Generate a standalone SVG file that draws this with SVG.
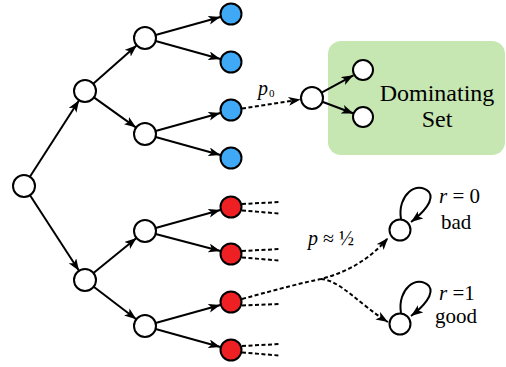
<svg xmlns="http://www.w3.org/2000/svg" width="506" height="367" viewBox="0 0 506 367">
<defs>
<marker id="ah" markerUnits="userSpaceOnUse" markerWidth="13" markerHeight="10" refX="12" refY="4.5" orient="auto">
<path d="M0,0 L12,4.5 L0,9 L3,4.5 Z" fill="#000"/>
</marker>
<style>
.n{fill:#fff;stroke:#000;stroke-width:2}
.b{fill:#3fa9f5;stroke:#000;stroke-width:2}
.r{fill:#ee2024;stroke:#000;stroke-width:2}
.e{stroke:#000;stroke-width:2;fill:none;marker-end:url(#ah)}
.d{stroke:#000;stroke-width:2;fill:none;stroke-dasharray:4 2.5}
.da{stroke:#000;stroke-width:2;fill:none;stroke-dasharray:4 2.5;marker-end:url(#ah)}
.t{font-family:"Liberation Serif","Times New Roman",Tinos,"DejaVu Serif",serif;fill:#000}
</style>
</defs>
<rect id="dombox" x="328" y="41" width="177" height="114" rx="13" fill="#c6e7b2"/>
<g id="connectors">
<line class="e" x1="29.9" y1="176.7" x2="79.1" y2="100.3"/>
<line class="e" x1="30" y1="195.2" x2="79" y2="270.8"/>
<line class="e" x1="93.2" y1="83.7" x2="136.8" y2="45.3"/>
<line class="e" x1="93.9" y1="97.4" x2="136.1" y2="127.6"/>
<line class="e" x1="93.5" y1="273" x2="136.5" y2="238"/>
<line class="e" x1="93.7" y1="286.7" x2="136.3" y2="319.3"/>
<line class="e" x1="155.6" y1="35" x2="220.4" y2="17"/>
<line class="e" x1="155.6" y1="41" x2="220.4" y2="59"/>
<line class="e" x1="155.6" y1="131" x2="220.4" y2="113"/>
<line class="e" x1="155.6" y1="137" x2="220.4" y2="155"/>
<line class="e" x1="155.6" y1="228" x2="220.4" y2="210"/>
<line class="e" x1="155.6" y1="234" x2="220.4" y2="251"/>
<line class="e" x1="155.6" y1="323" x2="220.4" y2="305"/>
<line class="e" x1="155.6" y1="329" x2="220.4" y2="347"/>
<line class="e" x1="321.6" y1="92.7" x2="353.4" y2="75.3"/>
<line class="e" x1="322.3" y1="101.8" x2="353.6" y2="113.5"/>
<line class="da" x1="242" y1="108.5" x2="300.5" y2="99.5"/>
<line class="d" x1="242" y1="204" x2="280" y2="202"/>
<line class="d" x1="242" y1="210.5" x2="279" y2="213.5"/>
<line class="d" x1="242" y1="251" x2="280" y2="249"/>
<line class="d" x1="242" y1="257.5" x2="279" y2="260.5"/>
<line class="d" x1="242" y1="305.5" x2="279" y2="304"/>
<line class="d" x1="242" y1="346" x2="280" y2="344"/>
<line class="d" x1="242" y1="352.5" x2="279" y2="355.5"/>
<path class="da" d="M242 299 Q300 283 321 279 C348 272 370 259 388 238"/>
<path class="da" d="M321 279 C340 280 360 305 388 322"/>
<path class="e" d="M401 219 C397 195 417 180 429 192 C435 200 423 213 411 222"/>
<path class="e" d="M401 313 C397 289 417 274 429 286 C435 294 423 307 411 316"/>
</g>
<g id="root"><circle class="n" cx="24" cy="186" r="11"/></g>
<g id="a"><circle class="n" cx="85" cy="91" r="11"/></g>
<g id="b"><circle class="n" cx="85" cy="280" r="11"/></g>
<g id="a1"><circle class="n" cx="145" cy="38" r="11"/></g>
<g id="a2"><circle class="n" cx="145" cy="134" r="11"/></g>
<g id="b1"><circle class="n" cx="145" cy="231" r="11"/></g>
<g id="b2"><circle class="n" cx="145" cy="326" r="11"/></g>
<g id="l1"><circle class="b" cx="231" cy="14" r="10.5"/></g>
<g id="l2"><circle class="b" cx="231" cy="62" r="10.5"/></g>
<g id="l3"><circle class="b" cx="231" cy="110" r="10.5"/></g>
<g id="l4"><circle class="b" cx="231" cy="158" r="10.5"/></g>
<g id="l5"><circle class="r" cx="231" cy="207" r="10.5"/></g>
<g id="l6"><circle class="r" cx="231" cy="254" r="10.5"/></g>
<g id="l7"><circle class="r" cx="231" cy="302" r="10.5"/></g>
<g id="l8"><circle class="r" cx="231" cy="350" r="10.5"/></g>
<g id="ds"><circle class="n" cx="312" cy="98" r="11"/></g>
<g id="ds1"><circle class="n" cx="363" cy="70" r="10"/></g>
<g id="ds2"><circle class="n" cx="363" cy="117" r="10"/></g>
<g id="bad"><circle class="n" cx="400" cy="230" r="10.5"/></g>
<g id="good"><circle class="n" cx="400" cy="324" r="10.5"/></g>
<g id="labels">
<text class="t" x="437" y="101" font-size="24" text-anchor="middle">Dominating</text>
<text class="t" x="437" y="127" font-size="24" text-anchor="middle">Set</text>
<text class="t" x="258" y="95" font-size="20" font-style="italic">p</text>
<text class="t" x="269" y="97" font-size="11">0</text>
<text class="t" x="308" y="245" font-size="20"><tspan font-style="italic">p</tspan> ≈ ½</text>
<text class="t" x="439" y="203" font-size="21"><tspan font-style="italic">r</tspan> = 0</text>
<text class="t" x="441" y="229" font-size="21">bad</text>
<text class="t" x="439" y="300" font-size="21"><tspan font-style="italic">r</tspan> =1</text>
<text class="t" x="435" y="323" font-size="21">good</text>
</g>
</svg>
